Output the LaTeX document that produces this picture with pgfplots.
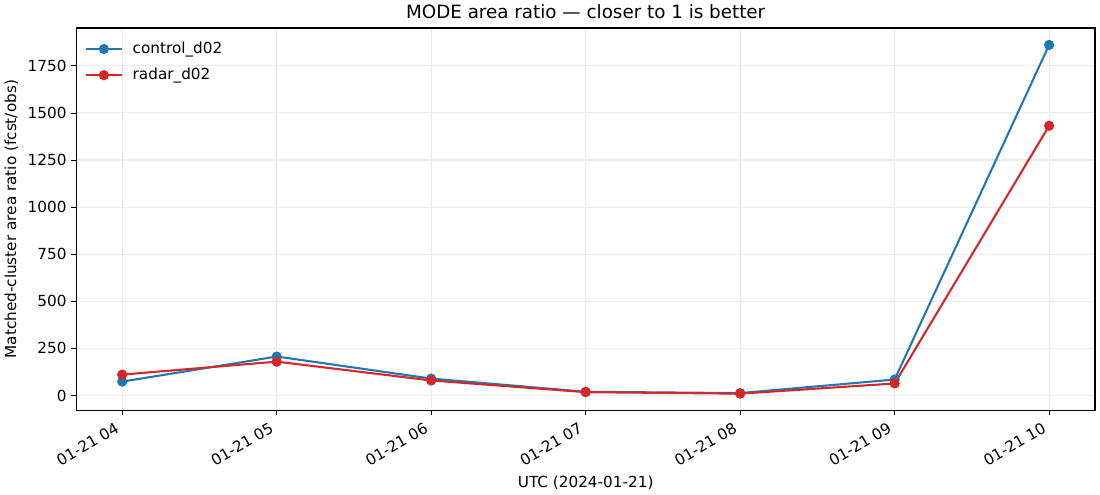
\documentclass[border=0pt]{standalone}
\usepackage{fontspec}
\setmainfont{DejaVu Sans}
\usepackage{pgfplots}
\pgfplotsset{compat=1.18}

\definecolor{tabblue}{HTML}{1F77B4}
\definecolor{tabred}{HTML}{D62728}
\definecolor{gridgray}{HTML}{EBEBEB}

\begin{document}
\begin{tikzpicture}
\begin{axis}[
    scale only axis,
    width=734.4pt, height=275.8pt,
    xmin=-0.297, xmax=6.297,
    ymin=-79.5, ymax=1951,
    xtick={0,1,2,3,4,5,6},
    xticklabels={01-21 04,01-21 05,01-21 06,01-21 07,01-21 08,01-21 09,01-21 10},
    xticklabel style={xshift=-5pt, yshift=-2.5pt, rotate=30, anchor=north east, inner sep=1.5pt, font=\fontsize{11}{13}\selectfont},
    ytick={0,250,500,750,1000,1250,1500,1750},
    yticklabel style={font=\fontsize{11}{13}\selectfont},
    /pgf/number format/assume math mode=true,
    /pgf/number format/1000 sep={},
    scaled y ticks=false,
    tick align=outside,
    major tick length=3.5pt,
    tick style={black, line width=0.6pt},
    axis line style={line width=0.8pt},
    xtick pos=bottom, ytick pos=left,
    grid=major,
    major grid style={gridgray, line width=0.8pt},
    title={MODE area ratio — closer to 1 is better},
    title style={font=\fontsize{13.2}{15}\selectfont, yshift=-3pt},
    xlabel={UTC (2024-01-21)},
    ylabel={Matched-cluster area ratio (fcst/obs)},
    xlabel style={yshift=-1.5pt},
    label style={font=\fontsize{11}{13}\selectfont},
    legend style={at={(0.004,0.978)}, anchor=north west, draw=none, fill=none,
        font=\fontsize{11}{13}\selectfont, row sep=5pt,
        /tikz/every odd column/.append style={column sep=5pt}},
    legend cell align=left,
    legend image code/.code={
        \draw[mark repeat=2, mark phase=2] plot coordinates {(0pt,0pt) (13pt,0pt) (26pt,0pt)};
    },
]
\coordinate (sw) at (rel axis cs:0,0);
\coordinate (ne) at (rel axis cs:1,1);

\addplot[tabblue, line width=1.5pt, mark=*, mark size=2.9pt, mark options={fill=tabblue, draw=tabblue}]
coordinates {(0,74) (1,207) (2,90) (3,20) (4,13) (5,85) (6,1861)};
\addlegendentry{control\_d02}

\addplot[tabred, line width=1.5pt, mark=*, mark size=2.9pt, mark options={fill=tabred, draw=tabred}]
coordinates {(0,111) (1,180) (2,80) (3,18) (4,10) (5,64) (6,1432)};
\addlegendentry{radar\_d02}

\end{axis}
\useasboundingbox ([shift={(-54pt,-60.48pt)}]sw) rectangle ([shift={(3.6pt,20.16pt)}]ne);
\end{tikzpicture}
\end{document}
